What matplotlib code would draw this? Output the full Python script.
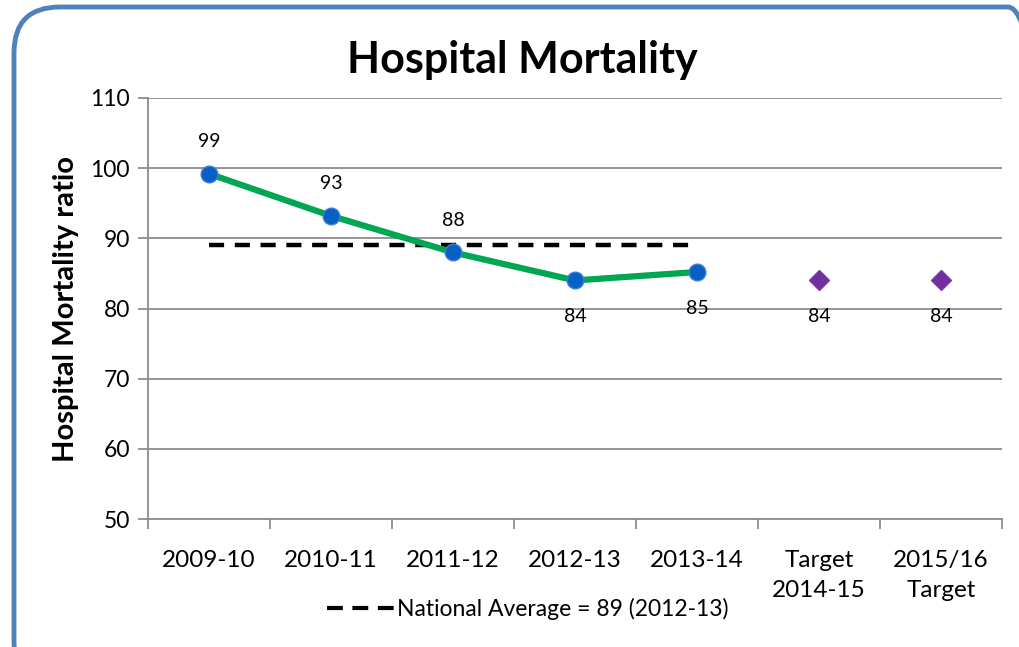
import matplotlib
matplotlib.use("Agg")
import matplotlib.pyplot as plt
from matplotlib.patches import FancyBboxPatch
from matplotlib.lines import Line2D

plt.rcParams['font.family'] = ['Lato', 'DejaVu Sans']

categories = ['2009-10', '2010-11', '2011-12', '2012-13', '2013-14',
              'Target\n2014-15', '2015/16\nTarget']
actual_idx = [0, 1, 2, 3, 4]
actual_vals = [99.2, 93.2, 88.0, 84.0, 85.2]
actual_labels = ['99', '93', '88', '84', '85']
target_idx = [5, 6]
target_vals = [84, 84]
target_labels = ['84', '84']
national_avg = 89
national_idx = [0, 4]

fig = plt.figure(figsize=(10.2, 6.47), dpi=100)
fig.patch.set_facecolor('white')

# rounded blue frame, runs off the right and bottom edge
frame = FancyBboxPatch((14 / 1020, -40 / 647), 1040 / 1020, 680 / 647,
                       boxstyle="round,pad=0,rounding_size=0.045",
                       transform=fig.transFigure, facecolor='none',
                       edgecolor='#4f81bd', linewidth=3.5, clip_on=False,
                       mutation_aspect=1020 / 647)
fig.patches.append(frame)

ax = fig.add_axes([148 / 1020, 1 - 519 / 647, (1002 - 148) / 1020, (519 - 98) / 647])
ax.set_xlim(-0.5, len(categories) - 0.5)
ax.set_ylim(50, 110)
ax.set_yticks(range(50, 111, 10))
ax.yaxis.grid(True, color='#8c8c8c', linewidth=1.3)
ax.set_axisbelow(True)

for s in ['top', 'right']:
    ax.spines[s].set_visible(False)
for s in ['left', 'bottom']:
    ax.spines[s].set_color('#8c8c8c')
    ax.spines[s].set_linewidth(1.3)

ax.set_xticks([i + 0.5 for i in range(-1, len(categories))])
ax.set_xticklabels([])
ax.set_xticks(range(len(categories)), minor=True)
ax.set_xticklabels(categories, minor=True, fontsize=17.5, linespacing=1.55)
ax.tick_params(axis='x', which='major', length=7, color='#8c8c8c', width=1.3)
ax.tick_params(axis='x', which='minor', length=0, pad=22)
ax.tick_params(axis='y', length=7, color='#8c8c8c', width=1.3, labelsize=16.5, pad=6)

ax.plot(national_idx, [national_avg, national_avg], color='black', linestyle=(0, (3.4, 2.4)),
        linewidth=3.2, zorder=2)
ax.plot(actual_idx, actual_vals, color='#00a651', linewidth=4.5, zorder=3)
ax.plot(actual_idx, actual_vals, linestyle='none', marker='o', markersize=12,
        markerfacecolor='#0a5fc4', markeredgecolor='#3b7fd6', markeredgewidth=1, zorder=4)
ax.plot(target_idx, target_vals, linestyle='none', marker='D', markersize=10,
        markerfacecolor='#7030a0', markeredgecolor='#7a3aad', zorder=4)

offsets = [23, 23, 23, -26, -26]
for i, v, t, o in zip(actual_idx, actual_vals, actual_labels, offsets):
    ax.annotate(t, (i, v), xytext=(0, o), textcoords='offset points',
                ha='center', va='center', fontsize=14)
for i, v, t in zip(target_idx, target_vals, target_labels):
    ax.annotate(t, (i, v), xytext=(0, -26), textcoords='offset points',
                ha='center', va='center', fontsize=14)

ax.set_ylabel('Hospital Mortality ratio', fontsize=21, fontweight='bold', labelpad=8)
fig.text(522 / 1020, 1 - 60 / 647, 'Hospital Mortality', ha='center', va='center',
         fontsize=31, fontweight='bold')

handle = Line2D([], [], color='black', linestyle=(0, (3.8, 2.3)), linewidth=3)
fig.legend([handle], ['National Average = 89 (2012-13)'], loc='center',
           bbox_to_anchor=(528 / 1020, 1 - 609 / 647), frameon=False,
           fontsize=16.5, handlelength=2.9, handletextpad=0.15)

fig.savefig('out.png', dpi=100)
